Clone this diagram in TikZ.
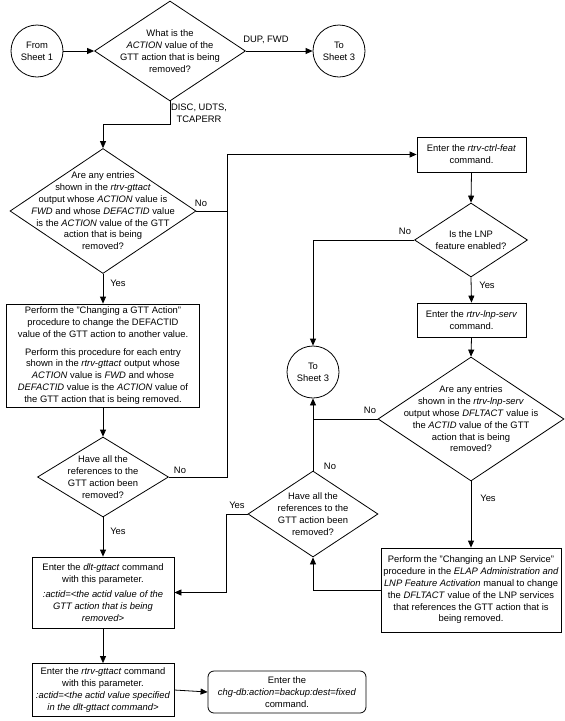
\documentclass[tikz,border=0pt]{standalone}
\usepackage{fontspec}
\setmainfont{Liberation Sans}
\usetikzlibrary{shapes.geometric,arrows.meta}
\begin{document}
\begin{tikzpicture}[x=1pt,y=-1pt,
  font=\fontsize{9.4}{11.8}\selectfont,
  line width=0.8pt,
  arr/.style={-{Triangle[length=7pt,width=6pt]}},
  box/.style={draw, rectangle, inner sep=0pt, align=center, fill=white},
  rbox/.style={draw, rectangle, rounded corners=6pt, inner sep=0pt, align=center},
  dia/.style={draw, diamond, inner sep=0pt},
  txt/.style={align=center, inner sep=0pt},
  circ/.style={draw, circle, minimum size=52pt, inner sep=0pt, align=center},
  lbl/.style={inner sep=0pt, align=center}]
\useasboundingbox (0,0) rectangle (565,721);

% top row
\node[circ] (from) at (37,51) {From\\Sheet 1};
\node[dia, minimum width=151pt, minimum height=100pt] (d1) at (170,51) {};
\node[txt] (t1) at (d1) {What is the\\\textit{ACTION} value of the\\GTT action that is being\\removed?};
\node[circ] (to1) at (339,51) {To\\Sheet 3};

% left column
\node[dia, minimum width=186pt, minimum height=125pt] (d2) at (103,211) {};
\node[txt] (t2) at (d2) {Are any entries\\shown in the \textit{rtrv-gttact}\\output whose \textit{ACTION} value is\\\textit{FWD} and whose \textit{DEFACTID} value\\is the \textit{ACTION} value of the GTT\\action that is being\\removed?};

\node[box, minimum width=193pt, minimum height=103pt] (b1) at (103,355.5) {Perform the "Changing a GTT Action"\\procedure to change the DEFACTID\\value of the GTT action to another value.\\[6pt]Perform this procedure for each entry\\shown in the \textit{rtrv-gttact} output whose\\\textit{ACTION} value is \textit{FWD} and whose\\\textit{DEFACTID} value is the \textit{ACTION} value of\\the GTT action that is being removed.};

\node[dia, minimum width=131pt, minimum height=80pt] (d4) at (103,477) {};
\node[txt] (t4) at (d4) {Have all the\\references to the\\GTT action been\\removed?};

\node[box, minimum width=142pt, minimum height=71pt] (dlt) at (103,592.5) {Enter the \textit{dlt-gttact} command\\with this parameter.\\[4pt]\textit{:actid=<the actid value of the}\\\textit{GTT action that is being}\\\textit{removed>}};

\node[box, minimum width=142pt, minimum height=53pt] (rg) at (103,690) {Enter the \textit{rtrv-gttact} command\\with this parameter.\\\textit{:actid=<the actid value specified}\\\textit{in the dlt-gttact command>}};

\node[rbox, minimum width=158pt, minimum height=42pt] (db) at (287,692) {Enter the\\\textit{chg-db:action=backup:dest=fixed}\\command.};

% right column
\node[box, minimum width=109pt, minimum height=35pt] (ctrl) at (471.5,154.5) {Enter the \textit{rtrv-ctrl-feat}\\command.};
\node[dia, minimum width=113pt, minimum height=74pt] (dl) at (471,240) {};
\node[txt] (tl) at (dl) {Is the LNP\\feature enabled?};
\node[box, minimum width=109pt, minimum height=34pt] (ls) at (471.5,320) {Enter the \textit{rtrv-lnp-serv}\\command.};
\node[dia, minimum width=186pt, minimum height=124pt] (ds) at (471,419) {};
\node[txt] (ts) at (ds) {Are any entries\\shown in the \textit{rtrv-lnp-serv}\\output whose \textit{DFLTACT} value is\\the \textit{ACTID} value of the GTT\\action that is being\\removed?};
\node[box, minimum width=180pt, minimum height=84pt] (lb) at (471,590) {Perform the "Changing an LNP Service"\\procedure in the \textit{ELAP Administration and}\\\textit{LNP Feature Activation} manual to change\\the \textit{DFLTACT} value of the LNP services\\that references the GTT action that is\\being removed.};

\node[circ] (to2) at (313,372) {To\\Sheet 3};
\node[dia, minimum width=130pt, minimum height=86pt] (d5) at (313,514) {};
\node[txt] (t5) at (d5) {Have all the\\references to the\\GTT action been\\removed?};

% junction coordinates
\coordinate (j1) at (170,124);
\coordinate (k1) at (227,154.5);
\coordinate (k2) at (226,514);

% connectors
\draw[arr] (from) -- (d1.west);
\draw[arr] (d1.east) -- (to1);
\draw[arr] (d1.south) -- (j1) -| (d2.north);
\draw[arr] (d2.south) -- (b1.north);
\draw[arr] (d2.east) -| (k1) -- (ctrl.west);
\draw (d4.east) -| (k1);
\draw[arr] (b1.south) -- (d4.north);
\draw[arr] (d4.south) -- (dlt.north);
\draw[arr] (dlt.south) -- (rg.north);
\draw[arr] (rg.east) -- (db.west);

\draw[arr] (ctrl.south) -- (dl.north);
\draw[arr] (dl.south) -- (ls.north);
\draw[arr] (dl.west) -| (to2.north);
\draw[arr] (ls.south) -- (ds.north);
\draw (ds.west) -- (ds.west -| to2.south);
\draw[arr] (d5.north) -- (to2.south);
\draw[arr] (ds.south) -- (lb.north);
\draw[arr] (lb.west) -| (d5.south);
\draw[arr] (d5.west) -- (k2) |- (dlt.east);

% labels
\node[lbl] (l1) at (266,40) {DUP, FWD};
\node[lbl] (l2) at (199,113) {DISC, UDTS,\\TCAPERR};
\node[lbl] (l3) at (201,203) {No};
\node[lbl] (l4) at (118,283) {Yes};
\node[lbl] (l5) at (180,470) {No};
\node[lbl] (l6) at (118,531) {Yes};
\node[lbl] (l7) at (405,231) {No};
\node[lbl] (l8) at (487,285) {Yes};
\node[lbl] (l9) at (370,410) {No};
\node[lbl] (l10) at (488,498) {Yes};
\node[lbl] (l11) at (330,466) {No};
\node[lbl] (l12) at (237,505) {Yes};
\end{tikzpicture}
\end{document}
